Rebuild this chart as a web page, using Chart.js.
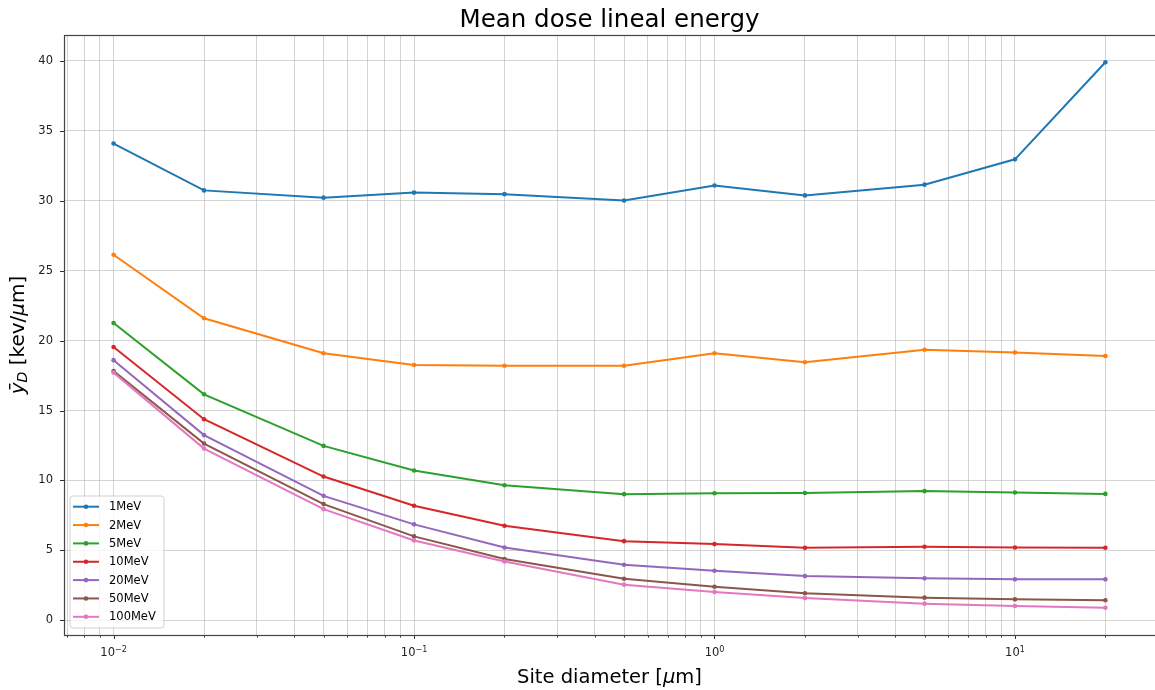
<!DOCTYPE html>
<html>
<head>
<meta charset="utf-8">
<script src="https://cdn.jsdelivr.net/npm/chart.js@4.4.0/dist/chart.umd.min.js"></script>
<style>
  html, body { margin: 0; padding: 0; background: #ffffff; }
  #wrap { width: 1155px; height: 690px; position: relative; }
</style>
</head>
<body>
<div id="wrap"><canvas id="c" width="1155" height="690"></canvas></div>
<script>
// ---- data ----
const siteDiameters = [0.01, 0.02, 0.05, 0.1, 0.2, 0.5, 1, 2, 5, 10, 20];
const seriesLabels = ['1MeV', '2MeV', '5MeV', '10MeV', '20MeV', '50MeV', '100MeV'];
const y1MeV   = [34.09, 30.74, 30.22, 30.58, 30.47, 30.02, 31.09, 30.38, 31.15, 32.96, 39.9];
const y2MeV   = [26.14, 21.6, 19.1, 18.25, 18.2, 18.2, 19.1, 18.45, 19.35, 19.15, 18.9];
const y5MeV   = [21.26, 16.16, 12.47, 10.71, 9.66, 9.02, 9.08, 9.1, 9.24, 9.14, 9.04];
const y10MeV  = [19.54, 14.38, 10.28, 8.19, 6.76, 5.66, 5.45, 5.18, 5.26, 5.21, 5.19];
const y20MeV  = [18.6, 13.24, 8.9, 6.86, 5.21, 3.97, 3.54, 3.16, 3.0, 2.93, 2.93];
const y50MeV  = [17.83, 12.64, 8.31, 6.0, 4.38, 2.97, 2.4, 1.93, 1.62, 1.5, 1.43];
const y100MeV = [17.71, 12.28, 7.95, 5.71, 4.21, 2.55, 2.02, 1.59, 1.19, 1.02, 0.9];
const seriesValues = [y1MeV, y2MeV, y5MeV, y10MeV, y20MeV, y50MeV, y100MeV];
const yTickValues = [0, 5, 10, 15, 20, 25, 30, 35, 40];
const xMajorTicks = [0.01, 0.1, 1, 10];
const xMajorExponents = ['\u22122', '\u22121', '0', '1'];
const chartTitle = 'Mean dose lineal energy';

// ---- style ----
const colors = ['#1f77b4', '#ff7f0e', '#2ca02c', '#d62728', '#9467bd', '#8c564b', '#e377c2'];
const FONT = "'DejaVu Sans', sans-serif";
const gridColor = 'rgba(176,176,176,0.55)';

const xMin = 0.006839, xMax = 29.25;
function buildLogTicks() {
  const out = [];
  for (let e = -3; e <= 1; e++) {
    for (let m = 1; m <= 9; m++) {
      const v = +(m * Math.pow(10, e)).toPrecision(6);
      if (v >= xMin && v <= xMax) out.push({ value: v, major: m === 1 });
    }
  }
  return out;
}
function majorIndex(v) { return xMajorTicks.findIndex(t => Math.abs(t - v) / t < 1e-6); }

const datasets = seriesLabels.map((lab, i) => ({
  label: lab,
  data: siteDiameters.map((x, j) => ({ x: x, y: seriesValues[i][j] })),
  borderColor: colors[i],
  backgroundColor: colors[i],
  borderWidth: 2,
  pointRadius: 2.3,
  pointHoverRadius: 2.3,
  pointBorderWidth: 0,
  tension: 0,
  order: seriesLabels.length - i
}));

function drawRich(ctx, parts, cx, y, align) {
  let total = 0;
  parts.forEach(p => { ctx.font = p.f; p.w = ctx.measureText(p.t).width; total += p.w; });
  let x = align === 'center' ? cx - total / 2 : cx;
  parts.forEach(p => { ctx.font = p.f; ctx.fillText(p.t, x, y + (p.dy || 0)); x += p.w; });
}

const framePlugin = {
  id: 'frame',
  afterDraw(chart) {
    const { ctx, chartArea: a } = chart;
    const xs = chart.scales.x, ys = chart.scales.y;
    ctx.save();
    // tick marks
    ctx.strokeStyle = '#333';
    ctx.lineWidth = 1;
    xs.ticks.forEach(t => {
      const px = Math.round(xs.getPixelForValue(t.value)) + 0.5;
      const len = majorIndex(t.value) >= 0 ? 4 : 2.5;
      ctx.beginPath(); ctx.moveTo(px, a.bottom); ctx.lineTo(px, a.bottom + len); ctx.stroke();
    });
    ys.ticks.forEach(t => {
      const py = Math.round(ys.getPixelForValue(t.value)) + 0.5;
      ctx.beginPath(); ctx.moveTo(a.left - 4, py); ctx.lineTo(a.left, py); ctx.stroke();
    });
    // x major tick labels 10^n
    ctx.fillStyle = '#222';
    ctx.textAlign = 'left';
    ctx.textBaseline = 'alphabetic';
    xMajorTicks.forEach((v, k) => {
      const px = xs.getPixelForValue(v);
      drawRich(ctx, [
        { t: '10', f: '11.5px ' + FONT },
        { t: xMajorExponents[k], f: '8px ' + FONT, dy: -3.6 }
      ], px, a.bottom + 20.7, 'center');
    });
    // spines (right spine falls just outside the canvas)
    ctx.strokeStyle = '#444';
    ctx.lineWidth = 1.2;
    ctx.strokeRect(a.left + 0.5, a.top + 0.5, a.right - a.left + 1, a.bottom - a.top);

    // legend
    const lx = a.left + 6, lh = 132, ly = a.bottom - 7 - lh, lw = 94;
    ctx.beginPath();
    const r = 3;
    ctx.moveTo(lx + r, ly);
    ctx.arcTo(lx + lw, ly, lx + lw, ly + lh, r);
    ctx.arcTo(lx + lw, ly + lh, lx, ly + lh, r);
    ctx.arcTo(lx, ly + lh, lx, ly, r);
    ctx.arcTo(lx, ly, lx + lw, ly, r);
    ctx.closePath();
    ctx.fillStyle = 'rgba(255,255,255,0.8)';
    ctx.fill();
    ctx.strokeStyle = 'rgba(204,204,204,0.9)';
    ctx.lineWidth = 1;
    ctx.stroke();
    ctx.font = '11.5px ' + FONT;
    ctx.textBaseline = 'middle';
    ctx.textAlign = 'left';
    chart.data.datasets.forEach((ds, i) => {
      const yy = ly + 10.7 + i * 18.35;
      ctx.strokeStyle = ds.borderColor;
      ctx.lineWidth = 2;
      ctx.beginPath(); ctx.moveTo(lx + 3, yy); ctx.lineTo(lx + 29, yy); ctx.stroke();
      ctx.fillStyle = ds.borderColor;
      ctx.beginPath(); ctx.arc(lx + 16, yy, 2.3, 0, Math.PI * 2); ctx.fill();
      ctx.fillStyle = '#000';
      ctx.fillText(ds.label, lx + 39, yy + 0.5);
    });

    const midX = (a.left + a.right) / 2;
    ctx.fillStyle = '#000';
    ctx.textBaseline = 'alphabetic';
    // title
    ctx.font = '24.5px ' + FONT;
    ctx.textAlign = 'center';
    ctx.fillText(chartTitle, midX, 27);
    // x axis title
    ctx.textAlign = 'left';
    drawRich(ctx, [
      { t: 'Site diameter [', f: '19.5px ' + FONT },
      { t: '\u03BC', f: 'oblique 19.5px ' + FONT },
      { t: 'm]', f: '19.5px ' + FONT }
    ], midX, 683, 'center');

    // y axis title with subscript
    const cy = (a.top + a.bottom) / 2;
    ctx.translate(19, cy);
    ctx.rotate(-Math.PI / 2);
    ctx.textBaseline = 'middle';
    drawRich(ctx, [
      { t: '\u0233', f: 'oblique 20px ' + FONT },
      { t: 'D', f: 'oblique 14px ' + FONT, dy: 4 },
      { t: ' [kev/', f: '20px ' + FONT },
      { t: '\u03BC', f: 'oblique 20px ' + FONT },
      { t: 'm]', f: '20px ' + FONT }
    ], 0, 0, 'center');
    ctx.restore();
  }
};

new Chart(document.getElementById('c'), {
  type: 'line',
  data: { datasets },
  options: {
    responsive: false,
    animation: false,
    layout: { autoPadding: false, padding: { left: 0, right: 0, top: 35, bottom: 0 } },
    plugins: {
      legend: { display: false },
      tooltip: { enabled: false },
      title: { display: false }
    },
    scales: {
      x: {
        type: 'logarithmic',
        min: xMin,
        max: xMax,
        afterBuildTicks(scale) { scale.ticks = buildLogTicks(); },
        afterFit(scale) { scale.height = 55; scale.paddingLeft = 0; scale.paddingRight = 0; },
        grid: { color: gridColor, lineWidth: 1, drawTicks: false },
        border: { display: false },
        ticks: {
          autoSkip: false,
          maxRotation: 0,
          minRotation: 0,
          padding: 10,
          callback() { return ''; }
        },
        title: { display: false }
      },
      y: {
        type: 'linear',
        min: -1.05,
        max: 41.85,
        afterBuildTicks(scale) { scale.ticks = yTickValues.map(v => ({ value: v })); },
        afterFit(scale) { scale.width = 64; scale.paddingTop = 0; scale.paddingBottom = 0; },
        grid: { color: gridColor, lineWidth: 1, drawTicks: false },
        border: { display: false },
        ticks: {
          padding: 11,
          color: '#222',
          font: { family: FONT, size: 11.5 },
          callback(v) { return String(v); }
        }
      }
    }
  },
  plugins: [framePlugin]
});
</script>
</body>
</html>
